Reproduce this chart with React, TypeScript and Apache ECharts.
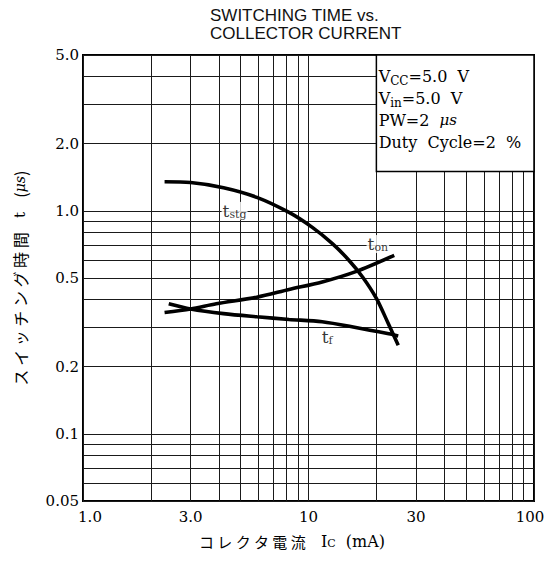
import React, { useEffect, useRef } from "react";
import * as echarts from "echarts";

// ---- axes ----
const xTickValues = [1, 2, 3, 4, 5, 6, 7, 8, 9, 10, 20, 30, 40, 50, 60, 70, 80, 90, 100];
const xLabelValues = [1, 3, 10, 30, 100];
const xLabelTexts = ["{first|1.0}", "3.0", "10", "30", "{last|100}"];
const yTickValues = [0.05, 0.06, 0.07, 0.08, 0.09, 0.1, 0.2, 0.3, 0.4, 0.5, 0.6, 0.7, 0.8, 0.9, 1, 2, 3, 4, 5];
const yLabelValues = [0.05, 0.1, 0.2, 0.5, 1, 2, 5];
const yLabelTexts = ["0.05", "0.1", "0.2", "0.5", "1.0", "2.0", "5.0"];

// ---- curves (Ic in mA, t in us) ----
const tstgX = [2.3, 3.0, 4.2, 5.9, 8.2, 10.4, 12.8, 15.1, 17.4, 20, 22.5, 25.0];
const tstgY = [1.35, 1.34, 1.27, 1.15, 0.984, 0.843, 0.711, 0.601, 0.504, 0.405, 0.315, 0.25];
const tonX = [2.3, 3.0, 3.9, 5.9, 8.2, 11.5, 16.2, 24.0];
const tonY = [0.35, 0.363, 0.383, 0.41, 0.444, 0.48, 0.534, 0.632];
const tfX = [2.4, 3.0, 4.2, 5.9, 8.2, 11.5, 16.2, 22.7, 25.0];
const tfY = [0.383, 0.363, 0.346, 0.335, 0.326, 0.318, 0.3, 0.281, 0.275];

// ---- curve labels ----
const curveLabelSubs = ["stg", "on", "f"];
const curveLabelX = [4.7, 20.3, 12.1];
const curveLabelY = [1.0, 0.71, 0.272];

// ---- condition box ----
const boxX = [20, 100];
const boxY = [5, 1.5];
const conditionLines = [
  "{v|V}{s|CC}{n|=5.0  V}",
  "{v|V}{s|in}{n|=5.0  V}",
  "{n|PW=2  }{i|μs}",
  "{n|Duty  Cycle=2  %}",
];

const titleText = "SWITCHING TIME vs.\nCOLLECTOR CURRENT";
const xName = "{j|コ レ ク タ 電 流}{l|   I}{s|C}{l|  (mA)}";
const yName = "{j|ス イ ッ チ ン グ 時 間}{l|   t   }{j|(}{m|μs}{j|)}";

const findLabel = (vals: number[], texts: string[], v: number) => {
  const i = vals.findIndex((a) => Math.abs(a - v) / a < 1e-6);
  return i >= 0 ? texts[i] : "";
};

const SERIF = "DejaVu Serif";
const CJK = "Noto Sans CJK JP";

export default function App() {
  const ref = useRef<HTMLDivElement>(null);
  useEffect(() => {
    document.body.style.margin = "0";
    if (!ref.current) return;
    const chart = echarts.init(ref.current, undefined, { renderer: "svg" });
    const lineSeries = (name: string, xs: number[], ys: number[], extra: any = {}) => ({
      name,
      type: "line",
      data: xs.map((x, i) => [x, ys[i]]),
      showSymbol: false,
      smooth: 0.3,
      lineStyle: { color: "#000", width: 3.6 },
      z: 5,
      silent: true,
      ...extra,
    });
    const labelFont = { fontFamily: SERIF, fontSize: 15, color: "#000" };
    const option: any = {
      animation: false,
      backgroundColor: "#fff",
      title: {
        text: titleText,
        left: 205,
        top: 1,
        textStyle: {
          fontFamily: "Liberation Sans",
          fontSize: 17,
          fontWeight: "normal",
          color: "#111",
          lineHeight: 18,
        },
      },
      grid: {
        left: 83,
        right: 17,
        top: 55,
        bottom: 64,
        show: true,
        borderColor: "#000",
        borderWidth: 2,
        backgroundColor: "transparent",
        containLabel: false,
        outerBoundsMode: "none",
      },
      xAxis: {
        type: "log",
        logBase: 10,
        min: 1,
        max: 100,
        axisLine: { show: false },
        axisTick: { show: false, customValues: xTickValues },
        minorTick: { show: false },
        minorSplitLine: { show: false },
        splitLine: { show: true, lineStyle: { color: "#1a1a1a", width: 1 } },
        axisLabel: {
          customValues: xLabelValues,
          formatter: (v: number) => findLabel(xLabelValues, xLabelTexts, v),
          margin: 8,
          ...labelFont,
          rich: {
            first: { ...labelFont, padding: [0, 0, 0, 14] },
            last: { ...labelFont, padding: [0, 8, 0, 0] },
          },
        },
        name: xName,
        nameLocation: "middle",
        nameGap: 32,
        nameTextStyle: {
          padding: [0, 33, 0, 0],
          rich: {
            j: { fontFamily: CJK, fontSize: 15, color: "#000" },
            l: { fontFamily: SERIF, fontSize: 16, color: "#000" },
            s: { fontFamily: SERIF, fontSize: 11, color: "#000", verticalAlign: "bottom", lineHeight: 12 },
          },
        },
      },
      yAxis: {
        type: "log",
        logBase: 10,
        min: 0.05,
        max: 5,
        axisLine: { show: false },
        axisTick: { show: false, customValues: yTickValues },
        minorTick: { show: false },
        minorSplitLine: { show: false },
        splitLine: { show: true, lineStyle: { color: "#1a1a1a", width: 1 } },
        axisLabel: {
          customValues: yLabelValues,
          formatter: (v: number) => findLabel(yLabelValues, yLabelTexts, v),
          margin: 4,
          ...labelFont,
        },
        name: yName,
        nameLocation: "middle",
        nameGap: 55,
        nameTextStyle: {
          rich: {
            j: { fontFamily: CJK, fontSize: 16, color: "#000" },
            l: { fontFamily: SERIF, fontSize: 15, color: "#000" },
            m: { fontFamily: SERIF, fontSize: 14, fontStyle: "italic", color: "#000" },
          },
        },
      },
      series: [
        lineSeries("tstg", tstgX, tstgY, {
          markArea: {
            silent: true,
            itemStyle: { color: "#fff", borderColor: "#000", borderWidth: 1.5 },
            label: {
              show: true,
              position: "insideTopLeft",
              distance: 2,
              offset: [1, 9],
              formatter: conditionLines.join("\n"),
              rich: {
                n: { fontFamily: SERIF, fontSize: 16, lineHeight: 22, color: "#000" },
                v: { fontFamily: SERIF, fontSize: 16, lineHeight: 22, color: "#000" },
                i: { fontFamily: SERIF, fontSize: 15, lineHeight: 22, fontStyle: "italic", color: "#000" },
                s: { fontFamily: SERIF, fontSize: 12, lineHeight: 13, verticalAlign: "bottom", color: "#000" },
              },
            },
            data: [[{ coord: [boxX[0], boxY[0]] }, { coord: [boxX[1], boxY[1]] }]],
          },
        }),
        lineSeries("ton", tonX, tonY),
        lineSeries("tf", tfX, tfY),
        {
          type: "scatter",
          silent: true,
          symbolSize: 1,
          itemStyle: { color: "rgba(0,0,0,0)" },
          z: 6,
          data: curveLabelX.map((x, i) => ({
            value: [x, curveLabelY[i]],
            label: { formatter: "{t|t}{s|" + curveLabelSubs[i] + "}" },
          })),
          label: {
            show: true,
            position: "inside",
            backgroundColor: "#fff",
            padding: [0, 1, 0, 1],
            rich: {
              t: { fontFamily: SERIF, fontSize: 17, color: "#000", lineHeight: 18 },
              s: { fontFamily: SERIF, fontSize: 11, color: "#000", verticalAlign: "bottom", lineHeight: 11 },
            },
          },
        },
      ],
    };
    chart.setOption(option);
    return () => chart.dispose();
  }, []);
  return <div ref={ref} style={{ width: 551, height: 565 }} />;
}
